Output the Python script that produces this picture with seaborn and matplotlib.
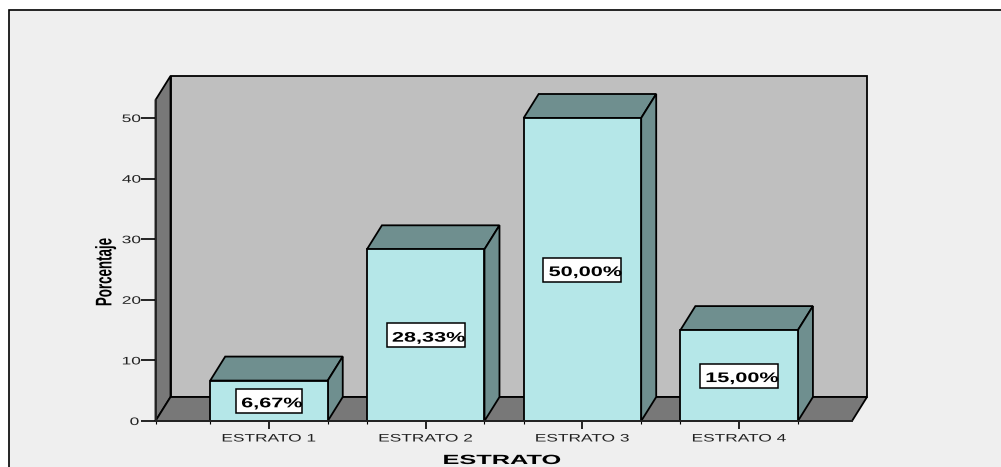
import matplotlib
matplotlib.use("Agg")
import matplotlib.pyplot as plt
from matplotlib.patches import Polygon, Rectangle
from matplotlib.patheffects import AbstractPathEffect
from matplotlib.transforms import Affine2D
import pandas as pd
import seaborn as sns

categories = ["ESTRATO 1", "ESTRATO 2", "ESTRATO 3", "ESTRATO 4"]
percent = [6.67, 28.33, 50.00, 15.00]
labels = ["6,67%", "28,33%", "50,00%", "15,00%"]
y_ticks = [0, 10, 20, 30, 40, 50]

W, H = 1001, 467
FRONT = "#B5E7E8"
SIDE = "#6F8F8F"
WALL = "#BFBFBF"
DARK = "#787878"


class Stretch(AbstractPathEffect):
    # the original text is wider than any installed font, stretch the glyphs around their centre
    def __init__(self, sx=1.0, sy=1.0):
        super().__init__()
        self.sx = sx
        self.sy = sy

    def draw_path(self, renderer, gc, tpath, affine, rgbFace=None):
        box = tpath.get_extents()
        cx, cy = (box.x0 + box.x1) / 2, (box.y0 + box.y1) / 2
        stretch = Affine2D().translate(-cx, -cy).scale(self.sx, self.sy).translate(cx, cy)
        renderer.draw_path(gc, tpath, stretch + affine, rgbFace)


sns.set_theme(style="white")
plt.rcParams["font.family"] = ["Liberation Sans", "DejaVu Sans"]

fig = plt.figure(figsize=(W / 100, H / 100), dpi=100, facecolor="white")
fig.add_artist(Rectangle((9 / W, -0.1), 1.1, 1.1 - 10 / H, transform=fig.transFigure,
                         facecolor="#EFEFEF", edgecolor="black", linewidth=1.2, zorder=-1))

# front plane of the 3D box in pixels
left, right, bottom, top = 155.5, 852, 421, 100
ax = fig.add_axes([left / W, 1 - bottom / H, (right - left) / W, (bottom - top) / H])
ax.patch.set_alpha(0)

df = pd.DataFrame({"estrato": categories, "pct": percent})
sns.barplot(data=df, x="estrato", y="pct", color=FRONT, saturation=1, width=0.75,
            edgecolor="black", linewidth=1.3, ax=ax, zorder=5)

ax.set_xlim(-0.724, 3.72)
ax.set_ylim(0, (bottom - top) / 6.06)
ax.set_yticks(y_ticks)
ax.set_xticks(range(len(categories)))
ax.set_xticklabels(categories)

# depth of the box in data units
dx = 15 / 156.7
dy = 24 / 6.06
x0, x1 = ax.get_xlim()
y0, y1 = ax.get_ylim()


def face(points, color, z):
    ax.add_patch(Polygon(points, closed=True, facecolor=color, edgecolor="black",
                         linewidth=1.3, zorder=z, clip_on=False))


face([(x0 + dx, y0 + dy), (x1 + dx, y0 + dy), (x1 + dx, y1 + dy), (x0 + dx, y1 + dy)], WALL, 1)
face([(x0, y0), (x0 + dx, y0 + dy), (x0 + dx, y1 + dy), (x0, y1)], DARK, 2)
face([(x0, y0), (x1, y0), (x1 + dx, y0 + dy), (x0 + dx, y0 + dy)], DARK, 2)

edges = [x0]
for bar, lab in zip(list(ax.patches)[:len(categories)], labels):
    a = bar.get_x()
    b = a + bar.get_width()
    h = bar.get_height()
    edges += [a, b]
    face([(a, h), (b, h), (b + dx, h + dy), (a + dx, h + dy)], SIDE, 4)
    face([(b, 0), (b + dx, dy), (b + dx, h + dy), (b, h)], SIDE, 4)
    mid = (a + b) / 2
    bw = (66 if len(lab) == 5 else 78) / 156.7
    ax.add_patch(Rectangle((mid - bw / 2, h / 2 - 12 / 6.06), bw, 24 / 6.06, facecolor="white",
                           edgecolor="black", linewidth=1.1, zorder=6))
    # the text sits a bit right of and below the centre of its box
    t = ax.text(mid + 3 / 156.7, h / 2 - 2.5 / 6.06, lab, ha="center", va="center", fontsize=10,
                fontweight="bold", color="black", zorder=7)
    t.set_path_effects([Stretch(sx=1.56)])

ax.set_xticks(edges, minor=True)

for s in ["top", "right"]:
    ax.spines[s].set_visible(False)
ax.spines["left"].set_linewidth(1.3)
ax.spines["bottom"].set_linewidth(1.3)
ax.spines["left"].set_zorder(3)
ax.spines["bottom"].set_zorder(8)

ax.tick_params(axis="y", left=True, length=11, width=1.2, color="black", labelsize=7.8, pad=2,
               labelcolor="#222222")
ax.tick_params(axis="x", bottom=True, length=6, width=1.2, color="black", labelsize=7.8, pad=3,
               labelcolor="#222222")
ax.tick_params(axis="x", which="minor", bottom=True, length=2, width=0.8, color="black")
for t in ax.get_xticklabels() + ax.get_yticklabels():
    t.set_path_effects([Stretch(sx=1.6)])

ax.set_xlabel("")
ax.set_ylabel("")
xl = fig.text(502 / W, 1 - 461 / H, "ESTRATO", ha="center", va="center", fontsize=9.6,
              fontweight="bold", color="black")
xl.set_path_effects([Stretch(sx=1.9)])
yl = fig.text(106 / W, 1 - 272 / H, "Porcentaje", ha="center", va="center", rotation=90,
              fontsize=9.6, fontweight="bold", color="black")
yl.set_path_effects([Stretch(sy=1.7)])

fig.savefig("out.png", dpi=100, facecolor=fig.get_facecolor())
